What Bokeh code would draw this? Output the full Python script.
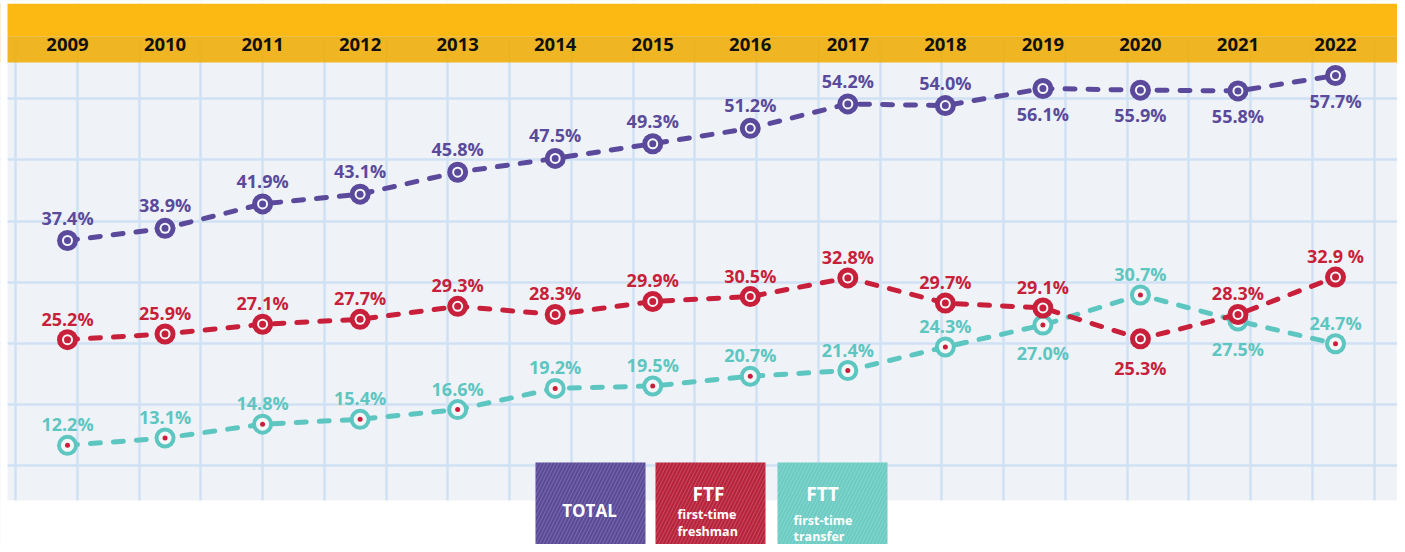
import numpy as np
from bokeh.plotting import figure
from bokeh.models import Range1d, Grid, FixedTicker
from bokeh.core.properties import value
from bokeh.embed import file_html
from bokeh.resources import INLINE

# ---------------- data ----------------
years = [2009, 2010, 2011, 2012, 2013, 2014, 2015, 2016, 2017, 2018, 2019, 2020, 2021, 2022]
year_labels = [str(y) for y in years]
total = [37.4, 38.9, 41.9, 43.1, 45.8, 47.5, 49.3, 51.2, 54.2, 54.0, 56.1, 55.9, 55.8, 57.7]
ftf = [25.2, 25.9, 27.1, 27.7, 29.3, 28.3, 29.9, 30.5, 32.8, 29.7, 29.1, 25.3, 28.3, 32.9]
ftt = [12.2, 13.1, 14.8, 15.4, 16.6, 19.2, 19.5, 20.7, 21.4, 24.3, 27.0, 30.7, 27.5, 24.7]
total_labels = ["37.4%", "38.9%", "41.9%", "43.1%", "45.8%", "47.5%", "49.3%", "51.2%",
                "54.2%", "54.0%", "56.1%", "55.9%", "55.8%", "57.7%"]
ftf_labels = ["25.2%", "25.9%", "27.1%", "27.7%", "29.3%", "28.3%", "29.9%", "30.5%",
              "32.8%", "29.7%", "29.1%", "25.3%", "28.3%", "32.9 %"]
ftt_labels = ["12.2%", "13.1%", "14.8%", "15.4%", "16.6%", "19.2%", "19.5%", "20.7%",
              "21.4%", "24.3%", "27.0%", "30.7%", "27.5%", "24.7%"]

# label placement (1 = above point, -1 = below point)
total_side = [1] * 10 + [-1] * 4
ftf_side = [1] * 11 + [-1] + [1] * 2
ftt_side = [1] * 10 + [-1, 1, -1, 1]

PURPLE = "#5b4a9c"
RED = "#c81f3b"
TEAL = "#5ec6c1"

# ---------------- layout (picture pixels -> data) ----------------
W, H = 1397, 544
K = 13 / 1268.0          # year per px
S = 165 / 20.3           # px per percent
x_start = 2009 - 67 * K
x_end = x_start + W * K
y_end = 37.4 + 240 / S
y_start = y_end - H / S


def X(px):
    return x_start + px * K


def Y(py):
    return y_end - py / S


p = figure(width=W, height=H, x_range=Range1d(x_start, x_end), y_range=Range1d(y_start, y_end),
           output_backend="svg", toolbar_location=None, x_axis_location=None, y_axis_location=None,
           min_border=0, outline_line_color=None, background_fill_color="#eff3f7",
           border_fill_color="white")
p.grid.visible = False

GRID_COL = "#d0e1f4"
vx = [X(px) for px in np.arange(15, 1401, 61.75)]
hy = [Y(py) for py in np.arange(37, 500, 61.2)]
p.add_layout(Grid(dimension=0, ticker=FixedTicker(ticks=vx), grid_line_color=GRID_COL, grid_line_width=2.5))
p.add_layout(Grid(dimension=1, ticker=FixedTicker(ticks=hy), grid_line_color=GRID_COL, grid_line_width=2.5))

# bands
p.quad(left=x_start, right=x_end, top=Y(3), bottom=Y(36), fill_color="#fdb913", line_color=None)
p.quad(left=x_start, right=x_end, top=Y(36), bottom=Y(62), fill_color="#efae0a", fill_alpha=0.9, line_color=None)
p.quad(left=x_start, right=x_end, top=Y(500), bottom=y_start, fill_color="white", line_color=None)
p.quad(left=x_start, right=x_end, top=y_end, bottom=Y(3), fill_color="white", line_color=None)
p.quad(left=x_start, right=X(7), top=y_end, bottom=y_start, fill_color="white", line_color=None)

# year labels
p.text(x=years, y=[Y(44)] * len(years), text=year_labels, text_font=value("Open Sans"),
       text_font_style="bold", text_font_size="18.5px", text_color="#111111",
       text_align="center", text_baseline="middle")


def series(vals, labels, side, color, inner, dot_color, dot_size, up_px, down_px):
    p.line(years, vals, line_color=color, line_width=5, line_dash="10 13", line_cap="round")
    p.scatter(years, vals, size=21, fill_color=color, line_color=None)
    p.scatter(years, vals, size=inner, fill_color="#f4f6f8", line_color=None)
    p.scatter(years, vals, size=dot_size, fill_color=dot_color, line_color=None)
    ly = [v + (up_px / S if s > 0 else -down_px / S) for v, s in zip(vals, side)]
    p.text(x=years, y=ly, text=labels, text_font=value("Open Sans"), text_font_style="bold",
           text_font_size="18px", text_color=color, text_align="center", text_baseline="middle")


series(total, total_labels, total_side, PURPLE, 11, PURPLE, 7, 23, 25)
series(ftt, ftt_labels, ftt_side, TEAL, 13, RED, 5, 21, 28)
series(ftf, ftf_labels, ftf_side, RED, 11, RED, 7, 21, 29)

# legend boxes
boxes = [(535, 645, "#5a4a98"), (655, 765, "#b8233b"), (777, 887, "#6ccbc3")]
for l, r, c in boxes:
    p.quad(left=X(l), right=X(r), top=Y(462), bottom=Y(549), fill_color=c, line_color=None,
           hatch_pattern="right_diagonal_line", hatch_color="white", hatch_alpha=0.25,
           hatch_scale=7, hatch_weight=0.8)

p.text(x=[X(589)], y=[Y(510)], text=["TOTAL"], text_font=value("Open Sans"), text_font_style="bold",
       text_font_size="17px", text_color="white", text_align="center", text_baseline="middle")
p.text(x=[X(708), X(822)], y=[Y(493), Y(493)], text=["FTF", "FTT"], text_font=value("Open Sans"),
       text_font_style="bold", text_font_size="19px", text_color="white", text_align="center",
       text_baseline="middle")
p.text(x=[X(677), X(677), X(793), X(793)], y=[Y(514), Y(531), Y(520), Y(536)],
       text=["first-time", "freshman", "first-time", "transfer"], text_font=value("Open Sans"),
       text_font_style="bold", text_font_size="12.5px", text_color="white", text_align="left",
       text_baseline="middle")

open("out.html", "w").write(file_html(p, INLINE))
